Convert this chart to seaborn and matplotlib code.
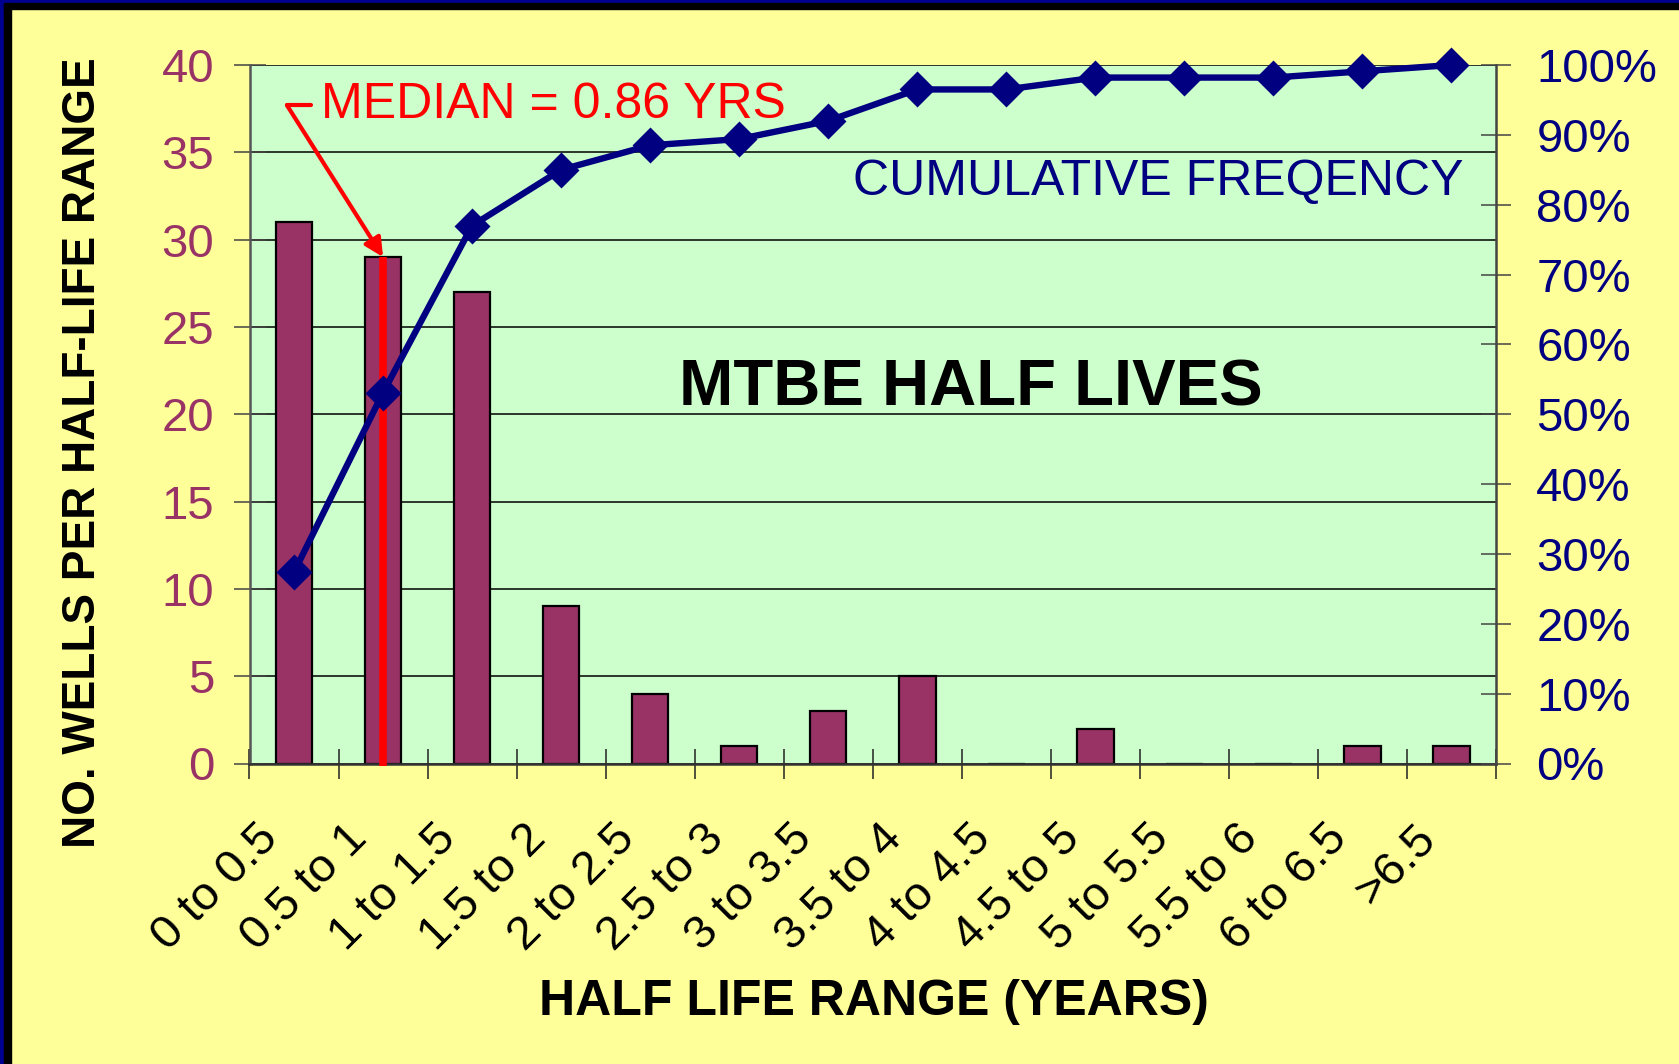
import numpy as np
import pandas as pd
import seaborn as sns
import matplotlib.pyplot as plt
import matplotlib.transforms as mtransforms
from matplotlib.patches import Rectangle
from matplotlib.ticker import FuncFormatter, MultipleLocator

# half-life ranges and number of wells in each
ranges = ['0 to 0.5', '0.5 to 1', '1 to 1.5', '1.5 to 2', '2 to 2.5', '2.5 to 3',
          '3 to 3.5', '3.5 to 4', '4 to 4.5', '4.5 to 5', '5 to 5.5', '5.5 to 6',
          '6 to 6.5', '>6.5']
wells = [31, 29, 27, 9, 4, 1, 3, 5, 0, 2, 0, 0, 1, 1]
# cumulative frequency (%)
cum_pct = [27.4, 53.1, 77.0, 85.0, 88.5, 89.4, 92.0, 96.5, 96.5, 98.2, 98.2, 98.2, 99.1, 100.0]

median_label = 'MEDIAN = 0.86 YRS'
median_bar = 1  # bar the median arrow points at

df = pd.DataFrame({'range': ranges, 'wells': wells, 'cum': cum_pct})

sns.set_theme(style='white')
plt.rcParams['font.family'] = ['Liberation Sans', 'DejaVu Sans']

W, H = 1679, 1064
fig = plt.figure(figsize=(W / 100, H / 100), dpi=100, facecolor='#FFFF99')
ax = fig.add_axes([249.5 / W, 1 - 763.5 / H, 1246.5 / W, 698.5 / H])
ax.set_facecolor('#CCFFCC')

# frame on left and top of the slide
fig.add_artist(Rectangle((0, 0), 4 / W, 1, transform=fig.transFigure, color='#000090', zorder=10))
fig.add_artist(Rectangle((4 / W, 0), 7 / W, 1 - 3 / H, transform=fig.transFigure, color='black', zorder=10))
fig.add_artist(Rectangle((0, 1 - 3 / H), 1, 3 / H, transform=fig.transFigure, color='#000090', zorder=10))
fig.add_artist(Rectangle((4 / W, 1 - 9 / H), 1, 6 / H, transform=fig.transFigure, color='black', zorder=10))

sns.barplot(data=df, x='range', y='wells', ax=ax, color='#993366', saturation=1,
            width=0.41, edgecolor='black', linewidth=1.6, zorder=2)
ax.set_xlim(-0.5, len(ranges) - 0.5)
ax.set_ylim(0, 40)
ax.yaxis.set_major_locator(MultipleLocator(5))
ax.set_axisbelow(True)
ax.yaxis.grid(True, color='black', lw=1.1)
ax.xaxis.grid(False)
ax.set_xlabel('')
ax.set_ylabel('')

for s in ['top', 'right']:
    ax.spines[s].set_visible(False)
ax.spines['left'].set_color('#555555')
ax.spines['left'].set_linewidth(1.8)
ax.spines['bottom'].set_color('#333333')
ax.spines['bottom'].set_linewidth(1.8)

ax.tick_params(axis='y', direction='inout', length=23, width=1.1, color='#444444',
               labelsize=34, labelcolor='#993366', pad=14, left=True)
ax.set_xticks(np.arange(len(ranges)))
ax.set_xticks(np.arange(len(ranges) + 1) - 0.5, minor=True)
ax.tick_params(axis='x', which='major', length=0, pad=38, labelsize=34, labelcolor='black')
ax.tick_params(axis='x', which='minor', direction='inout', length=21, width=1.1,
               color='#222222', bottom=True)
ax.set_xticklabels(ranges, rotation=45, ha='right', va='top', rotation_mode='anchor')
shift = mtransforms.ScaledTranslation(-0.38, 0, fig.dpi_scale_trans)
for lab in ax.get_xticklabels():
    lab.set_transform(lab.get_transform() + shift)

# median annotation
ax.plot([median_bar, median_bar], [wells[median_bar], -0.15], color='red', lw=5.5,
        solid_capstyle='butt', zorder=3, clip_on=False)
ax.plot([-0.08, 0.19], [37.7, 37.7], color='red', lw=3, zorder=3)
ax.annotate('', xy=(median_bar, wells[median_bar]), xytext=(-0.08, 37.7),
            arrowprops=dict(arrowstyle='-|>', color='red', lw=3, mutation_scale=28,
                            shrinkA=0, shrinkB=0), zorder=3)
ax.text(0.30, 37.7, median_label, color='red', fontsize=36, va='center', ha='left', zorder=3)

# cumulative frequency on the right axis
ax2 = ax.twinx()
sns.pointplot(data=df, x='range', y='cum', ax=ax2, color='#000080', markers='D',
              markersize=16, errorbar=None)
for line in ax2.lines:
    line.set_linewidth(4.6)
    line.set_clip_on(False)
ax2.set_xlim(-0.5, len(ranges) - 0.5)
ax2.set_ylim(0, 100)
ax2.yaxis.set_major_locator(MultipleLocator(10))
ax2.yaxis.set_major_formatter(FuncFormatter(lambda v, p: f'{v:.0f}%'))
ax2.set_ylabel('')
ax2.set_xlabel('')
for s in ['top', 'left', 'bottom']:
    ax2.spines[s].set_visible(False)
ax2.spines['right'].set_color('#444444')
ax2.spines['right'].set_linewidth(1.8)
ax2.tick_params(axis='y', direction='inout', length=22, width=1.1, color='#444444',
                labelsize=34, labelcolor='#000080', pad=18, right=True)
ax2.grid(False)

ax2.text(0.9738, 0.832, 'CUMULATIVE FREQENCY', transform=ax.transAxes,
         color='#000080', fontsize=36, ha='right', va='center')
ax2.text(0.579, 0.537, 'MTBE HALF LIVES', transform=ax.transAxes, color='black',
         fontsize=47, fontweight='bold', ha='center', va='center')

fig.text(83 / W, 1 - 453 / H, 'NO. WELLS PER HALF-LIFE RANGE', rotation=90,
         ha='center', va='center', fontsize=33, fontweight='bold', color='black')
fig.text(874 / W, 1 - 1002 / H, 'HALF LIFE RANGE (YEARS)', ha='center', va='center',
         fontsize=36, fontweight='bold', color='black')

fig.savefig('out.png', dpi=100, facecolor=fig.get_facecolor())
